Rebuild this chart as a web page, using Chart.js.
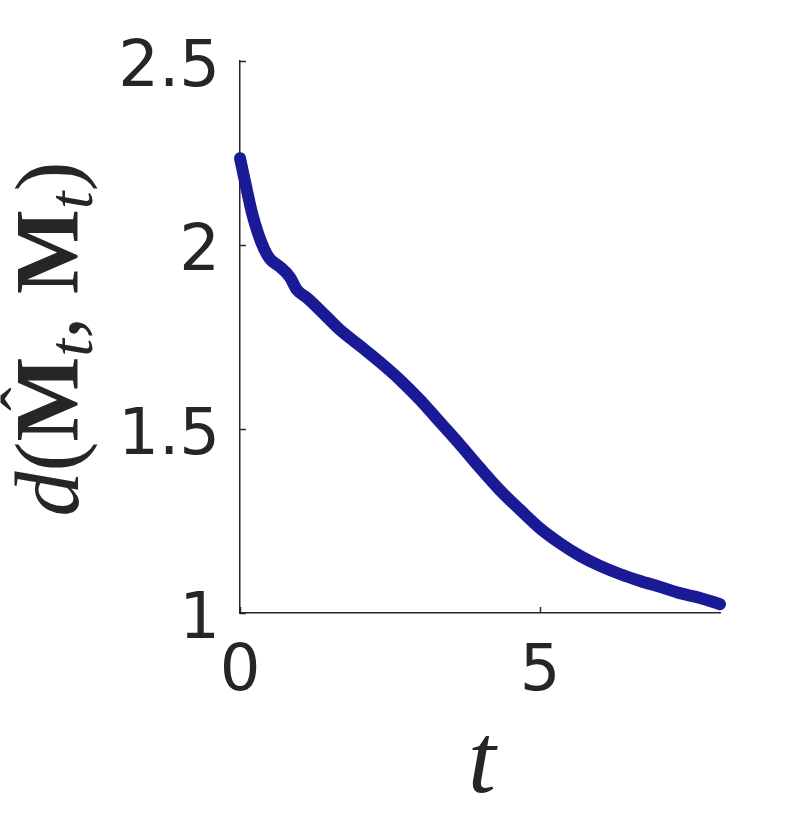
<!DOCTYPE html>
<html>
<head>
<meta charset="utf-8">
<script src="https://cdn.jsdelivr.net/npm/chart.js@4"></script>
<style>
  body { margin: 0; background: #fff; }
  canvas { display: block; }
</style>
</head>
<body>
<canvas id="distChart" width="797" height="828"></canvas>
<script>
let tempos = [0, 0.1, 0.2, 0.3, 0.4, 0.5, 0.67, 0.83, 0.95, 1.12, 1.45, 1.67, 2.0, 2.33, 2.67,
              3.0, 3.33, 3.67, 4.0, 4.33, 4.67, 5.0, 5.33, 5.67, 6.0, 6.33, 6.67, 7.0, 7.33, 7.67, 8.0];
let distancias = [2.236, 2.16, 2.087, 2.032, 1.99, 1.962, 1.94, 1.913, 1.878, 1.856, 1.804, 1.769, 1.726,
                  1.682, 1.633, 1.579, 1.519, 1.457, 1.394, 1.334, 1.28, 1.23, 1.19, 1.155, 1.128, 1.106,
                  1.087, 1.071, 1.054, 1.041, 1.024];
let ticksX = [0, 5];
let ticksY = [1, 1.5, 2, 2.5];

let corTexto = "#262626";

// tick marks pointing inward + axis titles
let extras = {
  id: "extras",
  beforeDatasetsDraw(chart) {
    let c = chart.ctx;
    let x = chart.scales.x, y = chart.scales.y;
    c.save();
    c.strokeStyle = corTexto;
    c.lineWidth = 1.5;
    ticksY.forEach(v => {
      let py = Math.round(y.getPixelForValue(v)) + 0.5;
      c.beginPath(); c.moveTo(x.left, py); c.lineTo(x.left + 6, py); c.stroke();
    });
    ticksX.forEach(v => {
      let px = Math.round(x.getPixelForValue(v)) + 0.5;
      c.beginPath(); c.moveTo(px, y.bottom); c.lineTo(px, y.bottom - 6); c.stroke();
    });
    c.restore();
  },
  afterDraw(chart) {
    let c = chart.ctx;
    c.save();
    c.fillStyle = corTexto;
    // x title
    c.font = "italic 100px 'Liberation Serif'";
    c.textAlign = "center";
    c.textBaseline = "alphabetic";
    c.fillText("t", 482, 792);

    // y title: d(M^_t, M_t), rotated
    let tam = 90;
    let sub = Math.round(tam * 0.7);
    let partes = [
      { s: "d", f: "italic " + tam + "px 'Liberation Serif'", dy: 0 },
      { s: "(", f: tam + "px 'Liberation Serif'", dy: 0 },
      { s: "M", f: "bold " + tam + "px 'Liberation Serif'", dy: 0, chapeu: true },
      { s: "t", f: "italic " + sub + "px 'Liberation Serif'", dy: 14 },
      { s: ", ", f: tam + "px 'Liberation Serif'", dy: 0 },
      { s: "M", f: "bold " + tam + "px 'Liberation Serif'", dy: 0 },
      { s: "t", f: "italic " + sub + "px 'Liberation Serif'", dy: 14 },
      { s: ")", f: tam + "px 'Liberation Serif'", dy: 0 }
    ];
    let total = 0;
    partes.forEach(p => { c.font = p.f; p.w = c.measureText(p.s).width; total += p.w; });
    c.translate(78, 339);
    c.rotate(-Math.PI / 2);
    c.textAlign = "left";
    let px = -total / 2;
    partes.forEach(p => {
      c.font = p.f;
      c.fillText(p.s, px, p.dy);
      if (p.chapeu) {
        c.font = "70px 'Liberation Serif'";
        c.textAlign = "center";
        c.fillText("\u02C6", px + p.w / 2, -29);
        c.textAlign = "left";
      }
      px += p.w;
    });
    c.restore();
  }
};

let ctx = document.getElementById("distChart").getContext("2d");

let grafico = new Chart(ctx, {
  type: "line",
  data: {
    datasets: [{
      data: tempos.map((t, i) => ({ x: t, y: distancias[i] })),
      borderColor: "#1b1a96",
      borderWidth: 12,
      borderCapStyle: "round",
      borderJoinStyle: "round",
      pointRadius: 0,
      cubicInterpolationMode: "monotone",
      clip: false
    }]
  },
  options: {
    responsive: false,
    animation: false,
    layout: { padding: { top: 61, right: 77, left: 0, bottom: 0 } },
    plugins: { legend: { display: false }, tooltip: { enabled: false } },
    scales: {
      x: {
        type: "linear",
        min: 0,
        max: 8,
        afterFit: s => { s.height = 215; },
        afterBuildTicks: s => { s.ticks = ticksX.map(v => ({ value: v })); },
        grid: { display: false },
        border: { display: true, color: corTexto, width: 1.5 },
        ticks: {
          color: corTexto,
          padding: 14,
          maxRotation: 0,
          font: { family: "DejaVu Sans", size: 64 }
        }
      },
      y: {
        type: "linear",
        min: 1,
        max: 2.5,
        afterFit: s => { s.width = 240; },
        afterBuildTicks: s => { s.ticks = ticksY.map(v => ({ value: v })); },
        grid: { display: false },
        border: { display: true, color: corTexto, width: 1.5 },
        ticks: {
          color: corTexto,
          padding: 12,
          labelOffset: 8,
          callback: v => String(v),
          font: { family: "DejaVu Sans", size: 64 }
        }
      }
    }
  },
  plugins: [extras]
});
</script>
</body>
</html>
